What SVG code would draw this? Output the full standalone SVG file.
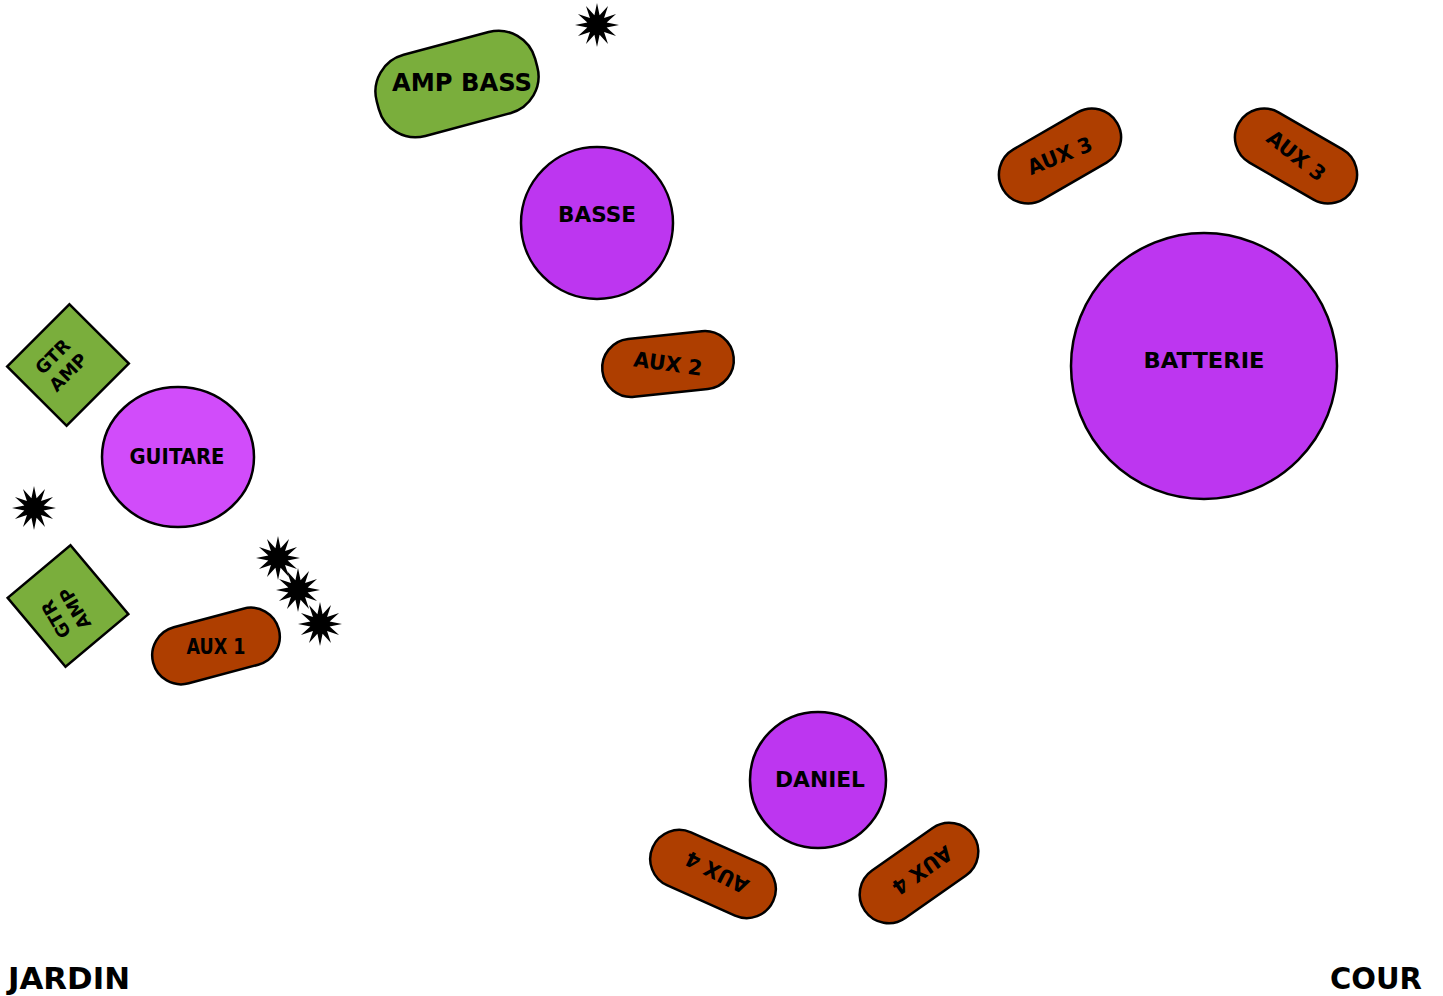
<svg xmlns="http://www.w3.org/2000/svg" xmlns:xlink="http://www.w3.org/1999/xlink" width="1443" height="996" viewBox="0 0 1443 996">
<style>
.pill{fill:#AE3E00;stroke:#000;stroke-width:2.5}
.amp{fill:#7AAE3C;stroke:#000;stroke-width:2.5}
.pers{fill:#BD36F0;stroke:#000;stroke-width:2.5}
.lbl{font-family:"DejaVu Sans","Liberation Sans",sans-serif;font-weight:bold;fill:#000;text-anchor:middle}
.side{font-family:"DejaVu Sans","Liberation Sans",sans-serif;font-weight:bold;fill:#000;font-size:30px}
</style>
<defs>
<polygon id="star" points="0,-22 2.59,-9.66 11,-19.05 7.07,-7.07 19.05,-11 9.66,-2.59 22,0 9.66,2.59 19.05,11 7.07,7.07 11,19.05 2.59,9.66 0,22 -2.59,9.66 -11,19.05 -7.07,7.07 -19.05,11 -9.66,2.59 -22,0 -9.66,-2.59 -19.05,-11 -7.07,-7.07 -11,-19.05 -2.59,-9.66" fill="#000"/>
</defs>
<rect width="1443" height="996" fill="#fff"/>
<g id="connectors"></g>

<g id="amp-bass">
<rect class="amp" x="-82" y="-42" width="164" height="84" rx="38" transform="translate(457,84) rotate(-15)"/>
<text class="lbl" x="462" y="91" font-size="24" textLength="140" lengthAdjust="spacingAndGlyphs">AMP BASS</text>
</g>
<g id="star-1"><use xlink:href="#star" href="#star" x="597" y="25"/></g>

<g id="basse">
<circle class="pers" cx="597" cy="223" r="76"/>
<text class="lbl" x="597" y="222" font-size="21" textLength="78" lengthAdjust="spacingAndGlyphs">BASSE</text>
</g>

<g id="gtr-amp-1">
<rect class="amp" x="-42" y="-44" width="84" height="88" transform="translate(68,365) rotate(45)"/>
<g transform="translate(60,364) rotate(-45)">
<text class="lbl" x="0" y="-4" font-size="18">GTR</text>
<text class="lbl" x="0" y="18" font-size="18">AMP</text>
</g>
</g>

<g id="guitare">
<ellipse cx="178" cy="457" rx="76" ry="70" fill="#D14CFA" stroke="#000" stroke-width="2.5"/>
<text class="lbl" x="177" y="464" font-size="21" textLength="95" lengthAdjust="spacingAndGlyphs">GUITARE</text>
</g>

<g id="star-2"><use xlink:href="#star" href="#star" x="34" y="508"/></g>

<g id="gtr-amp-2">
<rect class="amp" x="-45" y="-41" width="90" height="82" transform="translate(68,606) rotate(50)"/>
<g transform="translate(65,614) rotate(-120)">
<text class="lbl" x="0" y="-4" font-size="18">GTR</text>
<text class="lbl" x="0" y="18" font-size="18">AMP</text>
</g>
</g>

<g id="star-3"><use xlink:href="#star" href="#star" x="278" y="558"/></g>
<g id="star-4"><use xlink:href="#star" href="#star" x="298" y="590"/></g>
<g id="star-5"><use xlink:href="#star" href="#star" x="320" y="624"/></g>

<g id="aux-1">
<rect class="pill" x="-65" y="-29" width="130" height="58" rx="29" transform="translate(216,646) rotate(-15)"/>
<text class="lbl" x="216" y="654" font-size="21" textLength="59" lengthAdjust="spacingAndGlyphs">AUX 1</text>
</g>

<g id="aux-2">
<rect class="pill" x="-66" y="-29" width="132" height="58" rx="29" transform="translate(668,364) rotate(-6)"/>
<text class="lbl" x="0" y="7" font-size="21" textLength="69" lengthAdjust="spacingAndGlyphs" transform="translate(668,364) rotate(8)">AUX 2</text>
</g>

<g id="aux-3a">
<rect class="pill" x="-66" y="-29" width="132" height="58" rx="29" transform="translate(1060,156) rotate(-30)"/>
<text class="lbl" x="0" y="7" font-size="21" textLength="68" lengthAdjust="spacingAndGlyphs" transform="translate(1060,156) rotate(-22)">AUX 3</text>
</g>

<g id="aux-3b">
<rect class="pill" x="-66" y="-29" width="132" height="58" rx="29" transform="translate(1296,156) rotate(30)"/>
<text class="lbl" x="0" y="7" font-size="21" textLength="68" lengthAdjust="spacingAndGlyphs" transform="translate(1296,156) rotate(38)">AUX 3</text>
</g>

<g id="batterie">
<circle class="pers" cx="1204" cy="366" r="133"/>
<text class="lbl" x="1204" y="368" font-size="22" textLength="121" lengthAdjust="spacingAndGlyphs">BATTERIE</text>
</g>

<g id="daniel">
<circle class="pers" cx="818" cy="780" r="68"/>
<text class="lbl" x="820" y="787" font-size="22" textLength="90" lengthAdjust="spacingAndGlyphs">DANIEL</text>
</g>

<g id="aux-4a">
<rect class="pill" x="-66" y="-29" width="132" height="58" rx="29" transform="translate(713,874) rotate(24)"/>
<text class="lbl" x="0" y="7" font-size="21" textLength="68" lengthAdjust="spacingAndGlyphs" transform="translate(717,872) rotate(207)">AUX 4</text>
</g>

<g id="aux-4b">
<rect class="pill" x="-66" y="-29" width="132" height="58" rx="29" transform="translate(919,873) rotate(-35)"/>
<text class="lbl" x="0" y="7" font-size="21" textLength="68" lengthAdjust="spacingAndGlyphs" transform="translate(922,870) rotate(145)">AUX 4</text>
</g>

<g id="jardin"><text class="side" x="8" y="989" textLength="122" lengthAdjust="spacingAndGlyphs">JARDIN</text></g>
<g id="cour"><text class="side" x="1330" y="989" textLength="92" lengthAdjust="spacingAndGlyphs">COUR</text></g>
</svg>
